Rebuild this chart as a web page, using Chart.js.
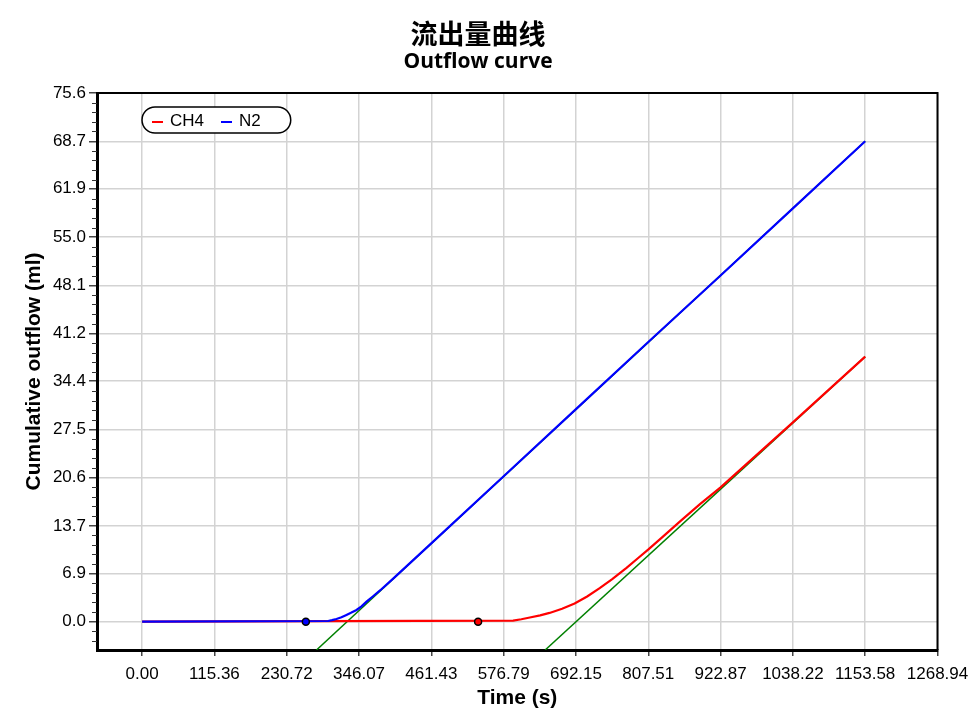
<!DOCTYPE html>
<html>
<head>
<meta charset="utf-8">
<title>Outflow curve</title>
<script src="https://cdn.jsdelivr.net/npm/chart.js@4.4.0/dist/chart.umd.min.js"></script>
<style>
    html, body { margin: 0; padding: 0; background: #fff; }
    #wrap { position: relative; width: 980px; height: 711px; }
    .title { position: absolute; left: 0; width: 956px; text-align: center; color: #000; font-weight: bold; }
    #title1 { top: 17px; font-family: "Noto Sans CJK SC", sans-serif; font-size: 27px; line-height: 32px; }
    #title2 { top: 47px; font-family: "Open Sans", "Noto Sans CJK SC", sans-serif; font-size: 21px; line-height: 26px; }
    canvas { position: absolute; left: 0; top: 0; }
</style>
</head>
<body>
<div id="wrap">
    <canvas id="outflowChart" width="980" height="711"></canvas>
    <div class="title" id="title1">流出量曲线</div>
    <div class="title" id="title2">Outflow curve</div>
</div>
<script>
// Axis ticks
const xTickLabels = ['0.00', '115.36', '230.72', '346.07', '461.43', '576.79',
    '692.15', '807.51', '922.87', '1038.22', '1153.58', '1268.94'];
const yTickLabels = ['0.0', '6.9', '13.7', '20.6', '27.5', '34.4',
    '41.2', '48.1', '55.0', '61.9', '68.7', '75.6'];

const X_MIN = -72;
const X_MAX = 1268.94;
const Y_MIN = -4.05;
const Y_MAX = 75.6;

// N2 cumulative outflow (s, ml)
const n2Time = [0, 296.8, 303, 310, 318, 326, 334, 342, 350, 358, 368, 380, 400.5,
    464.3, 576.79, 692.15, 807.51, 922.87, 1038.22, 1153.58];
const n2Flow = [0, 0.1, 0.22, 0.39, 0.62, 0.96, 1.3, 1.67, 2.2, 2.86, 3.6, 4.5, 6.15,
    11.45, 20.8, 30.4, 40.0, 49.5, 59.1, 68.7];

// CH4 cumulative outflow (s, ml)
const ch4Time = [0, 591.9, 605, 618.5, 635, 650, 670, 690, 710, 730, 750, 772.8,
    790, 807.3, 830, 857.8, 890, 922.87, 1038.22, 1153.58];
const ch4Flow = [0, 0.14, 0.35, 0.6, 0.9, 1.25, 1.85, 2.6, 3.6, 4.8, 6.1, 7.7,
    9.0, 10.3, 12.1, 14.3, 16.8, 19.2, 28.5, 37.9];

// tangent (steady state) lines
const n2TangentTime = [278.2, 1153.58];
const n2TangentFlow = [-4.05, 68.7];
const ch4TangentTime = [643, 1153.58];
const ch4TangentFlow = [-4.05, 37.9];

// breakthrough markers
const n2OnsetTime = [261.2];
const n2OnsetFlow = [0];
const ch4OnsetTime = [536.0];
const ch4OnsetFlow = [0];

const TICK_FONT = '"Liberation Sans", Arial, sans-serif';

function toPoints(xs, ys) {
    return xs.map((x, i) => ({ x: x, y: ys[i] }));
}

/**
 * Legend drawn inside the plot area as a rounded pill
 */
const insideLegend = {
    id: 'insideLegend',
    afterDraw(chart) {
        const ctx = chart.ctx;
        const area = chart.chartArea;
        const items = chart.data.datasets.filter(d => d.inLegend);
        ctx.save();
        ctx.font = '17px ' + TICK_FONT;
        const x0 = area.left + 45;
        const y0 = area.top + 14;
        const h = 26;
        let w = 10;
        items.forEach((d, i) => {
            w += 11 + 7 + ctx.measureText(d.label).width;
            if (i < items.length - 1) w += 17;
        });
        w += 30;

        ctx.beginPath();
        ctx.roundRect(x0, y0, w, h, h / 2);
        ctx.fillStyle = '#fff';
        ctx.fill();
        ctx.lineWidth = 1.5;
        ctx.strokeStyle = '#000';
        ctx.stroke();

        let x = x0 + 10;
        const cy = y0 + h / 2;
        ctx.textBaseline = 'middle';
        items.forEach(d => {
            ctx.beginPath();
            ctx.moveTo(x, cy + 2);
            ctx.lineTo(x + 11, cy + 2);
            ctx.strokeStyle = d.borderColor;
            ctx.lineWidth = 2;
            ctx.stroke();
            x += 18;
            ctx.fillStyle = '#000';
            ctx.fillText(d.label, x, cy + 1);
            x += ctx.measureText(d.label).width + 17;
        });
        ctx.restore();
    }
};

/**
 * Top / right frame and minor ticks on the y axis
 */
const frameAndMinorTicks = {
    id: 'frameAndMinorTicks',
    afterDraw(chart) {
        const ctx = chart.ctx;
        const area = chart.chartArea;
        const yScale = chart.scales.y;
        ctx.save();
        ctx.strokeStyle = '#000';
        ctx.lineWidth = 2;
        ctx.beginPath();
        ctx.moveTo(area.left, area.top);
        ctx.lineTo(area.right, area.top);
        ctx.lineTo(area.right, area.bottom);
        ctx.stroke();

        const minorStep = Y_MAX / 11 / 5;
        ctx.strokeStyle = '#333';
        ctx.lineWidth = 1;
        ctx.beginPath();
        for (let k = Math.ceil(Y_MIN / minorStep); k * minorStep <= Y_MAX; k++) {
            if (k % 5 === 0) continue;
            const py = Math.round(yScale.getPixelForValue(k * minorStep)) + 0.5;
            ctx.moveTo(area.left - 5, py);
            ctx.lineTo(area.left, py);
        }
        ctx.stroke();
        ctx.restore();
    }
};

function createOutflowChart() {
    const ctx = document.getElementById('outflowChart');

    const datasets = [
        {
            label: 'CH4',
            inLegend: true,
            data: toPoints(ch4Time, ch4Flow),
            borderColor: '#ff0000',
            borderWidth: 2.2,
            order: 2
        },
        {
            label: 'N2',
            inLegend: true,
            data: toPoints(n2Time, n2Flow),
            borderColor: '#0000ff',
            borderWidth: 2.2,
            order: 1
        },
        {
            label: 'N2 tangent',
            data: toPoints(n2TangentTime, n2TangentFlow),
            borderColor: '#008000',
            borderWidth: 1.5,
            order: 3
        },
        {
            label: 'CH4 tangent',
            data: toPoints(ch4TangentTime, ch4TangentFlow),
            borderColor: '#008000',
            borderWidth: 1.5,
            order: 3
        },
        {
            label: 'N2 onset',
            data: toPoints(n2OnsetTime, n2OnsetFlow),
            showLine: false,
            pointRadius: 3.5,
            pointBorderWidth: 1.5,
            pointBorderColor: '#000',
            pointBackgroundColor: '#0000ff',
            order: 0
        },
        {
            label: 'CH4 onset',
            data: toPoints(ch4OnsetTime, ch4OnsetFlow),
            showLine: false,
            pointRadius: 3.5,
            pointBorderWidth: 1.5,
            pointBorderColor: '#000',
            pointBackgroundColor: '#ff0000',
            order: 0
        }
    ];

    return new Chart(ctx, {
        type: 'line',
        data: { datasets: datasets },
        options: {
            responsive: false,
            animation: false,
            devicePixelRatio: 1,
            layout: {
                padding: { top: 93, right: 42.5, bottom: 0, left: 0 }
            },
            elements: {
                line: { tension: 0, fill: false },
                point: { radius: 0, hoverRadius: 0 }
            },
            plugins: {
                legend: { display: false },
                tooltip: { enabled: false }
            },
            scales: {
                x: {
                    type: 'linear',
                    min: X_MIN,
                    max: X_MAX,
                    afterBuildTicks: scale => {
                        scale.ticks = xTickLabels.map(l => ({ value: parseFloat(l) }));
                    },
                    afterFit: scale => {
                        scale.height = 61;
                    },
                    ticks: {
                        autoSkip: false,
                        maxRotation: 0,
                        padding: 8,
                        color: '#000',
                        font: { family: TICK_FONT, size: 17 },
                        callback: (value, index) => xTickLabels[index]
                    },
                    grid: {
                        color: '#d3d3d3',
                        lineWidth: 1.5,
                        tickColor: '#444',
                        tickLength: 6
                    },
                    border: { color: '#000', width: 3 },
                    title: {
                        display: true,
                        text: 'Time (s)',
                        color: '#000',
                        font: { family: TICK_FONT, size: 21, weight: 'bold', lineHeight: 1.2 },
                        padding: { top: 0, bottom: 0 }
                    }
                },
                y: {
                    type: 'linear',
                    min: Y_MIN,
                    max: Y_MAX,
                    afterBuildTicks: scale => {
                        scale.ticks = yTickLabels.map(l => ({ value: parseFloat(l) }));
                    },
                    afterFit: scale => {
                        scale.width = 97;
                    },
                    ticks: {
                        padding: 3,
                        color: '#000',
                        font: { family: TICK_FONT, size: 17 },
                        callback: (value, index) => yTickLabels[index]
                    },
                    grid: {
                        color: '#d3d3d3',
                        lineWidth: 1.5,
                        tickColor: '#444',
                        tickLength: 8
                    },
                    border: { color: '#000', width: 3 },
                    title: {
                        display: true,
                        text: 'Cumulative outflow (ml)',
                        color: '#000',
                        font: { family: TICK_FONT, size: 21, weight: 'bold', lineHeight: 1.2 },
                        padding: { top: 22, bottom: 0 }
                    }
                }
            }
        },
        plugins: [frameAndMinorTicks, insideLegend]
    });
}

createOutflowChart();
</script>
</body>
</html>
